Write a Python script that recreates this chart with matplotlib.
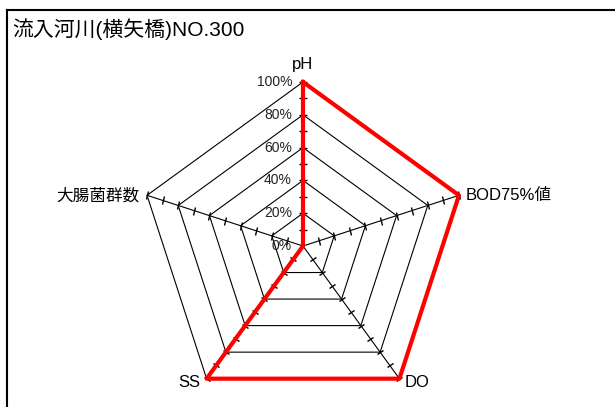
import numpy as np
import matplotlib
matplotlib.use("Agg")
from matplotlib import pyplot as plt
from matplotlib.markers import MarkerStyle
from matplotlib.transforms import Affine2D
from matplotlib.lines import Line2D

plt.rcParams['font.family'] = ['Liberation Sans', 'Noto Sans CJK JP', 'DejaVu Sans']

title = "流入河川(横矢橋)NO.300"
categories = ["pH", "BOD75%値", "DO", "SS", "大腸菌群数"]
values = [100, 100, 100, 100, 0]
rings = [20, 40, 60, 80, 100]
ring_labels = ["0%", "20%", "40%", "60%", "80%", "100%"]
minor = [10, 20, 30, 40, 50, 60, 70, 80, 90, 100]

W, H = 615, 407
fig = plt.figure(figsize=(W / 100, H / 100), dpi=100)
cx, cy, R = 303, 246, 164
ax = fig.add_axes([(cx - R) / W, (H - cy - R) / H, 2 * R / W, 2 * R / H],
                  projection='polar')
ax.set_theta_offset(np.pi / 2)
ax.set_theta_direction(-1)
ax.set_ylim(0, 100)
ax.set_xticks([])
ax.set_yticks([])
ax.grid(False)
ax.spines['polar'].set_visible(False)
ax.patch.set_visible(False)

n = len(categories)
theta = np.arange(n) * 2 * np.pi / n
theta_c = np.append(theta, theta[0])

# pentagon grid
for r in rings:
    ax.plot(theta_c, [r] * (n + 1), color='black', lw=0.8, clip_on=False)

# axis spokes + small ticks
for i, t in enumerate(theta):
    ax.plot([t, t], [0, 100], color='black', lw=0.8, clip_on=False)
    ang = 90 - 72 * i + 90
    m = MarkerStyle('_', transform=Affine2D().rotate_deg(ang))
    ax.plot([t] * len(minor), minor, linestyle='none', marker=m,
            markersize=5.5, markeredgewidth=1.0, color='black', clip_on=False)

# data
vals = values + values[:1]
ax.plot(theta_c, vals, color='#ff0000', lw=3, clip_on=False, zorder=5)

# ring labels
for r, lab in zip([0] + rings, ring_labels):
    ax.annotate(lab, xy=(0, r), xytext=(-11, 0), textcoords='offset pixels',
                ha='right', va='center', fontsize=10, color='#222222')

# category labels
offs = [(0, 17, 'center', 'center'), (7, 0, 'left', 'center'),
        (5, -4, 'left', 'center'), (-6, -4, 'right', 'center'),
        (-8, 0, 'right', 'center')]
for t, lab, (dx, dy, ha, va) in zip(theta, categories, offs):
    ax.annotate(lab, xy=(t, 100), xytext=(dx, dy), textcoords='offset pixels',
                ha=ha, va=va, fontsize=12)

fig.text(12 / W, 1 - 29 / H, title, ha='left', va='center', fontsize=15)

# chart area border (left and top only visible)
bx, by = 7 / W, 1 - 9.5 / H
fig.add_artist(Line2D([bx, bx], [0, by], transform=fig.transFigure, color='black', lw=1.5))
fig.add_artist(Line2D([bx, 1], [by, by], transform=fig.transFigure, color='black', lw=1.5))

fig.savefig("out.png", dpi=100)
